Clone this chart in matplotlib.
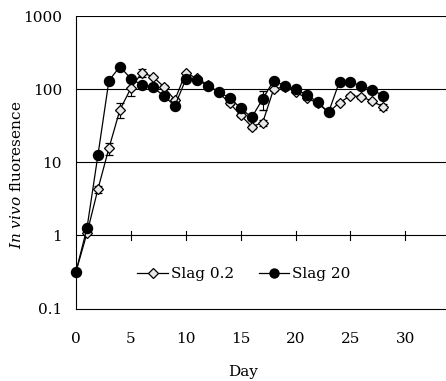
import numpy as np
import matplotlib
matplotlib.use("Agg")
import matplotlib.pyplot as plt
from matplotlib.ticker import FixedLocator, NullLocator

# data
days = list(range(0, 29))
slag02 = [0.32, 1.07, 4.3, 15.6, 52, 103, 168, 148, 108, 71, 168, 140, 115, 90,
          64, 44, 30.7, 34.8, 100, 108, 92, 75, 65, 48, 65.5, 81, 79, 68, 57]
slag02_err = [0, 0, 0.5, 3, 12, 22, 20, 5, 5, 4, 5, 4, 4, 3,
              3, 3, 2, 3, 5, 4, 4, 3, 3, 2, 3, 4, 5, 4, 5]
slag20 = [0.32, 1.26, 12.6, 131, 203, 139, 114, 106, 81, 59, 136, 134, 112, 91,
          76, 55, 41, 73, 131, 111, 100, 84, 67, 48, 127, 124, 112, 97.5, 81]
slag20_err = [0, 0, 0, 0, 0, 0, 0, 0, 0, 0, 0, 0, 0, 0,
              0, 0, 0, 21, 0, 0, 0, 0, 0, 0, 0, 0, 0, 0, 0]

xticks = [0, 5, 10, 15, 20, 25, 30]
yticks = [0.1, 1, 10, 100, 1000]
ytick_labels = ["0.1", "1", "10", "100", "1000"]

plt.rcParams["font.family"] = ["DejaVu Serif"]
plt.rcParams["mathtext.fontset"] = "dejavuserif"

fig = plt.figure(figsize=(4.46, 3.81), dpi=100)
ax = fig.add_axes([76 / 446, 1 - 308.5 / 381, 1 - 76 / 446, (308.5 - 16) / 381])
ax.set_yscale("log")
ax.set_xlim(0, 33.7)
ax.set_ylim(0.1, 1000)

# horizontal reference lines
for v in yticks[1:]:
    ax.axhline(v, color="black", linewidth=0.8, zorder=1)

# x tick marks sit on the y = 1 line
for t in xticks[1:]:
    ax.plot([t, t], [0.87, 1.15], color="black", linewidth=0.8, zorder=1)

e1 = ax.errorbar(days, slag02, yerr=slag02_err, color="black", linewidth=0.9,
                 marker="D", markersize=5.2, markerfacecolor="#e8e8e8",
                 markeredgecolor="black", markeredgewidth=0.9,
                 capsize=3, elinewidth=0.8, zorder=3)
e2 = ax.errorbar(days, slag20, yerr=slag20_err, color="black", linewidth=0.9,
                 marker="o", markersize=7.2, markerfacecolor="black",
                 markeredgecolor="black", capsize=3, elinewidth=0.8, zorder=4)
for c in (e1, e2):
    c[0].set_clip_on(False)

for s in ("top", "right"):
    ax.spines[s].set_visible(False)
for s in ("left", "bottom"):
    ax.spines[s].set_linewidth(0.8)

ax.xaxis.set_major_locator(FixedLocator(xticks))
ax.set_xticklabels([str(t) for t in xticks])
ax.yaxis.set_major_locator(FixedLocator(yticks))
ax.yaxis.set_minor_locator(NullLocator())
ax.set_yticklabels(ytick_labels)
ax.tick_params(axis="x", length=0, pad=17, labelsize=11)
ax.tick_params(axis="y", length=0, pad=10, labelsize=11)

fig.text(243 / 446, 1 - 372 / 381, "Day", ha="center", va="center", fontsize=11)
fig.text(17 / 446, 1 - 175 / 381, r"$\mathit{In\ vivo}$ fluoresence",
         rotation=90, ha="center", va="center", fontsize=11)

leg = ax.legend([e1[0], e2[0]], ["Slag 0.2", "Slag 20"], loc="center",
                bbox_to_anchor=(0.454, 0.118), ncol=2, frameon=False,
                fontsize=11, handlelength=2.0, handletextpad=0.2,
                columnspacing=1.6, markerscale=0.9)

fig.savefig("out.png", dpi=100)
